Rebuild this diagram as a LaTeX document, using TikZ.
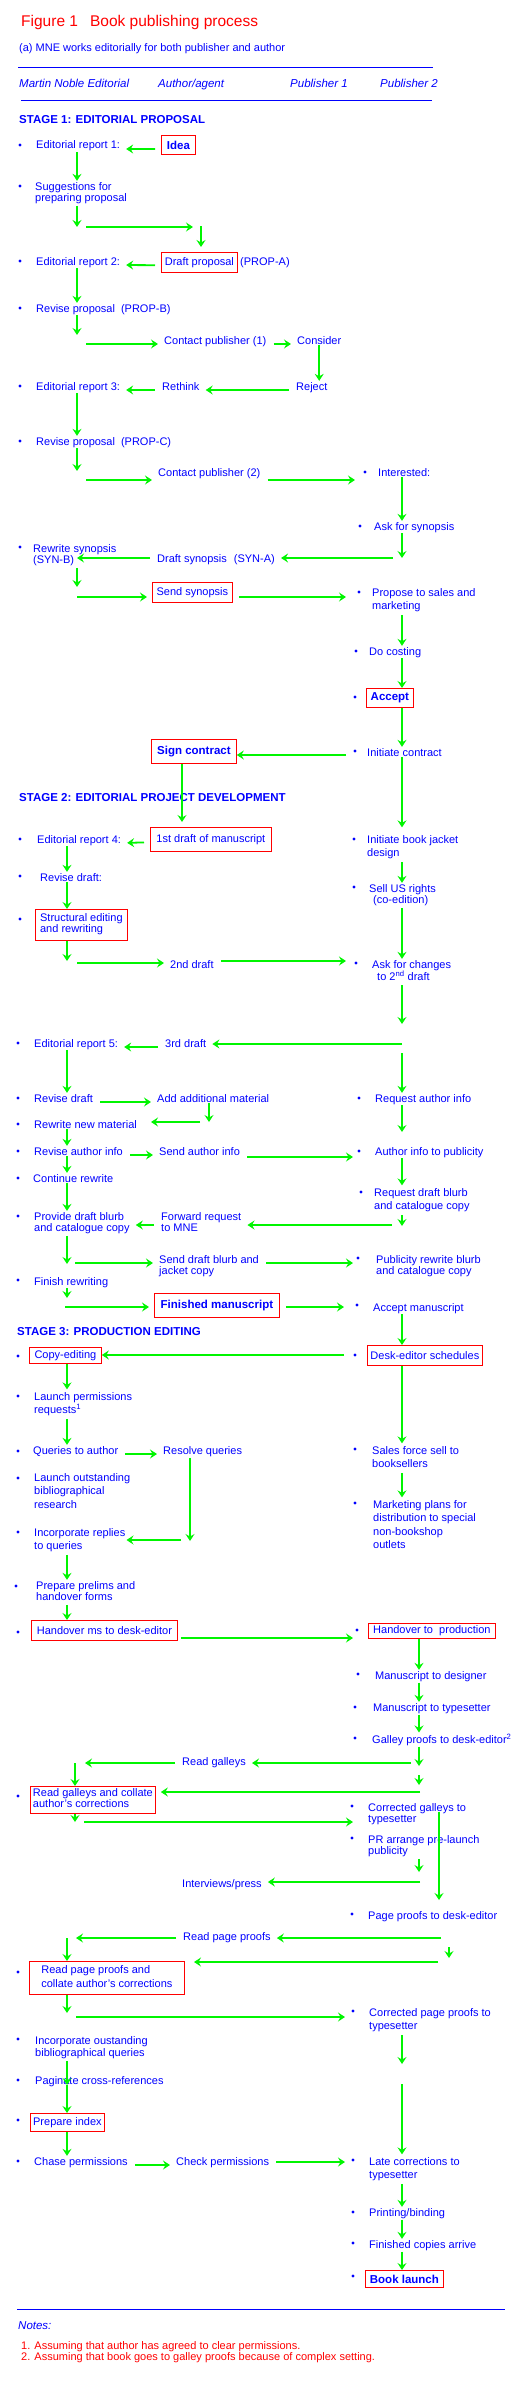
\documentclass[tikz,border=0pt]{standalone}
\usepackage{fontspec}
\setmainfont{Liberation Sans}
\usetikzlibrary{arrows.meta}
\definecolor{agreen}{RGB}{0,245,0}
\definecolor{tblue}{RGB}{0,0,255}
\definecolor{tred}{RGB}{255,0,0}
\newcommand\mlt[1]{\begin{tabular}[t]{@{}l@{}}#1\end{tabular}}

\begin{document}
\begin{tikzpicture}[x=1pt, y=-1pt,
 txt/.style={text=tblue, font=\fontsize{11}{12}\selectfont, inner sep=1pt, anchor=base west},
 tight/.style={font=\fontsize{11}{11}\selectfont},
 loose/.style={font=\fontsize{11}{13.5}\selectfont},
 bld/.style={txt, font=\fontsize{11.5}{12}\selectfont\bfseries},
 hdr/.style={txt, font=\fontsize{11.5}{12}\selectfont\itshape},
 box/.style={draw=tred, line width=0.8pt, text=tblue, font=\fontsize{11}{11}\selectfont, inner sep=0pt, anchor=north west},
 bbox/.style={box, font=\fontsize{11.5}{12}\selectfont\bfseries},
 bul/.style={circle, fill=tblue, inner sep=0pt, minimum size=3.2pt},
 arr/.style={draw=agreen, line width=1.8pt, -{Stealth[length=7pt, width=9pt, inset=2.5pt]}},
 hgap/.style={shorten <=6pt, shorten >=5pt},
 sgap/.style={shorten <=6pt},
 egap/.style={shorten >=5pt},
 rule/.style={draw=tblue, line width=0.9pt}]
 \useasboundingbox (0,0) rectangle (531,2384);

 \node[txt, text=tred, font=\fontsize{15.5}{16}\selectfont] (title) at (20,26.5) {Figure 1\hspace{12pt}Book publishing process};
 \node[txt] (sub) at (18,52) {(a) MNE works editorially for both publisher and author};
 \draw[rule] (18,67) -- (433,67);
 \node[hdr] (h1) at (18,88) {Martin Noble Editorial};
 \node[hdr] (h2) at (157,88) {Author/agent};
 \node[hdr] (h3) at (289,88) {Publisher 1};
 \node[hdr] (h4) at (379,88) {Publisher 2};
 \draw[rule] (21,100) -- (432,100);

 \foreach \x/\y [count=\i] in {20/145, 20/186, 20/261, 20/308, 20/386, 20/441, 20/547,
   365/472, 360/526, 359/592, 356/651, 355/697, 355/751, 20/839, 20/876, 20/919,
   354/839, 354/887, 356/963, 18/1043, 18/1098, 18/1124, 18/1151, 18/1178, 18/1216, 18/1280,
   359/1098, 359/1151, 361/1192, 358/1258, 357/1305, 18/1356, 18/1396, 18/1451, 18/1478,
   18/1532, 16/1586, 18/1632, 18/1796, 18/1972, 18/2039, 18/2080, 18/2120, 18/2161,
   355/1355, 355/1449, 355/1503, 357/1630, 358/1674, 355/1707, 355/1738, 352/1806, 352/1838,
   352/1914, 353/2011, 353/2160, 353/2212, 353/2243, 353/2276}
  \node[bul] (b\i) at (\x,\y) {};

 \coordinate (colA) at (77,0);
 \coordinate (colB) at (67,0);
 \coordinate (colC) at (209,0);
 \coordinate (colD) at (190,0);
 \coordinate (colE) at (419,0);
 \coordinate (colF) at (75,0);
 \coordinate (colS) at (182,0);
 \coordinate (colR) at (402,0);

 \node[bld] (st1) at (18,124) {STAGE 1: EDITORIAL PROPOSAL};
 \node[txt] (rep1) at (35,149) {Editorial report 1:};
 \node[bbox, minimum width=34pt, minimum height=19pt] (idea) at (161,135) {Idea};
 \node[txt, tight] (sugg) at (34,190) {\mlt{Suggestions for\\ preparing proposal}};
 \node[txt] (rep2) at (35,265) {Editorial report 2:};
 \node[box, minimum width=76pt, minimum height=20pt] (dprop) at (161,252) {Draft proposal};
 \node[txt] (propa) at (239,265) {(PROP-A)};
 \node[txt] (rev1) at (35,312) {Revise proposal\hspace{6pt}(PROP-B)};
 \node[txt] (cont1) at (163,344) {Contact publisher (1)};
 \node[txt] (consid) at (296,344) {Consider};
 \node[txt] (reject) at (295,390) {Reject};
 \node[txt] (rethink) at (161,390) {Rethink};
 \node[txt] (rep3) at (35,390) {Editorial report 3:};
 \node[txt] (rev2) at (35,445) {Revise proposal\hspace{6pt}(PROP-C)};
 \node[txt] (cont2) at (157,476) {Contact publisher (2)};
 \node[txt] (intr) at (377,476) {Interested:};
 \node[txt] (asksyn) at (373,530) {Ask for synopsis};
 \node[txt] (dsyn) at (156,562) {Draft synopsis\hspace{7pt}(SYN-A)};
 \node[txt, tight] (rsyn) at (32,552) {\mlt{Rewrite synopsis\\ (SYN-B)}};
 \node[box, minimum width=80pt, minimum height=20pt] (ssyn) at (152,582) {Send synopsis};
 \node[txt, loose] (propose) at (371,596) {\mlt{Propose to sales and\\marketing}};
 \node[txt] (costing) at (368,655) {Do costing};
 \node[bbox, minimum width=47pt, minimum height=19pt] (accept) at (366,688) {Accept};
 \node[txt] (initc) at (366,756) {Initiate contract};
 \node[bbox, minimum width=85pt, minimum height=24pt] (sign) at (151,739) {Sign contract};

 \coordinate (p1) at (77,227);
 \coordinate (p2) at (86,227);
 \coordinate (p3) at (193,227);
 \coordinate (p4) at (201,226);
 \coordinate (p5) at (77,335);
 \coordinate (p6) at (86,344);
 \coordinate (p7) at (77,471);
 \coordinate (p8) at (86,480);
 \coordinate (p9) at (355,480);
 \coordinate (p10) at (402,558);
 \coordinate (p11) at (393,558);
 \coordinate (p13) at (77,587);
 \coordinate (p14) at (77,597);
 \coordinate (p15) at (346,597);
 \coordinate (p16) at (346,755);
 \draw[arr, hgap] (idea.base west) -- (rep1.base east);
 \draw[arr] (rep1.south -| colA) -- (sugg.north -| colA);
 \draw[arr] (sugg.south -| colA) -- (p1);
 \draw[arr] (p2) -- (p3);
 \draw[arr, egap] (p4) -- (p4 |- dprop.north);
 \draw[arr, hgap] (dprop.base west) -- (rep2.base east);
 \draw[arr] (rep2.south -| colA) -- (rev1.north -| colA);
 \draw[arr] (rev1.south -| colA) -- (p5);
 \draw[arr, egap] (p6) -- (p6 -| cont1.west);
 \draw[arr, hgap] (cont1.base east) -- (consid.base west);
 \draw[arr] (consid.south) -- (consid.south |- reject.north);
 \draw[arr, hgap] (reject.base west) -- (rethink.base east);
 \draw[arr, hgap] (rethink.base west) -- (rep3.base east);
 \draw[arr] (rep3.south -| colA) -- (rev2.north -| colA);
 \draw[arr] (rev2.south -| colA) -- (p7);
 \draw[arr, egap] (p8) -- (p8 -| cont2.west);
 \draw[arr, sgap] (p9 -| cont2.east) -- (p9);
 \draw[arr] (intr.south -| colR) -- (asksyn.north -| colR);
 \draw[arr] (asksyn.south -| colR) -- (p10);
 \draw[arr, egap] (p11) -- (p11 -| dsyn.east);
 \draw[arr, sgap] (p11 -| dsyn.west) -- (p11 -| colA);
 \draw[arr] (rsyn.south -| colA) -- (p13);
 \draw[arr, egap] (p14) -- (p14 -| ssyn.west);
 \draw[arr, sgap] (p14 -| ssyn.east) -- (p15);
 \draw[arr] (propose.south -| colR) -- (costing.north -| colR);
 \draw[arr] (costing.south -| colR) -- (accept.north -| colR);
 \draw[arr] (accept.south -| colR) -- (initc.north -| colR);
 \draw[arr] (p16) -- (p16 -| sign.east);

 \node[bld] (st2) at (18,801) {STAGE 2: EDITORIAL PROJECT DEVELOPMENT};
 \node[txt] (rep4) at (36,843) {Editorial report 4:};
 \node[box, minimum width=121pt, minimum height=24pt] (draft1) at (150,827) {1st draft of manuscript};
 \node[txt] (revd) at (39,881) {Revise draft:};
 \node[box, tight, minimum width=92pt, minimum height=31pt] (struct) at (35,909) {\mlt{Structural editing\\ and rewriting}};
 \node[txt] (draft2) at (169,968) {2nd draft};
 \node[txt, loose] (jacket) at (366,843) {\mlt{Initiate book jacket\\design}};
 \node[txt, tight] (usr) at (368,892) {\mlt{Sell US rights\\\hspace*{4pt}(co-edition)}};
 \node[txt, tight] (askch) at (371,968) {\mlt{Ask for changes\\\hspace*{5pt}to 2\textsuperscript{nd} draft}};
 \node[txt] (draft3) at (164,1047) {3rd draft};
 \node[txt] (rep5) at (33,1047) {Editorial report 5:};
 \node[txt] (revd2) at (33,1102) {Revise draft};
 \node[txt] (addm) at (156,1102) {Add additional material};
 \node[txt] (rnew) at (33,1128) {Rewrite new material};
 \node[txt] (rai) at (33,1155) {Revise author info};
 \node[txt] (sai) at (158,1155) {Send author info};
 \node[txt] (cont) at (32,1182) {Continue rewrite};
 \node[txt] (reqai) at (374,1102) {Request author info};
 \node[txt] (aipub) at (374,1155) {Author info to publicity};
 \node[txt, loose] (reqbl) at (373,1196) {\mlt{Request draft blurb\\and catalogue copy}};
 \node[txt, tight] (prov) at (33,1220) {\mlt{Provide draft blurb\\and catalogue copy}};
 \node[txt, tight] (fwd) at (160,1220) {\mlt{Forward request\\to MNE}};
 \node[txt, tight] (sendbl) at (158,1263) {\mlt{Send draft blurb and\\jacket copy}};
 \node[txt, tight] (pubrw) at (375,1263) {\mlt{Publicity rewrite blurb\\and catalogue copy}};
 \node[txt] (finr) at (33,1285) {Finish rewriting};
 \node[bbox, minimum width=125pt, minimum height=24pt] (finms) at (154,1293) {Finished manuscript};
 \node[txt] (accms) at (372,1311) {Accept manuscript};

 \coordinate (p17) at (67,961);
 \coordinate (p18) at (77,963);
 \coordinate (p19) at (346,961);
 \coordinate (p21) at (402,1024);
 \coordinate (p22) at (402,1044);
 \coordinate (p23) at (402,1053);
 \coordinate (p24) at (209,1122);
 \coordinate (p25) at (200,1122);
 \coordinate (p26) at (151,1122);
 \coordinate (p27) at (353,1157);
 \coordinate (p28) at (402,1132);
 \coordinate (p29) at (402,1226);
 \coordinate (p30) at (392,1225);
 \coordinate (p31) at (67,1264);
 \coordinate (p32) at (75,1263);
 \coordinate (p33) at (353,1263);
 \coordinate (p34) at (67,1298);
 \coordinate (p35) at (65,1307);
 \coordinate (p36) at (344,1307);
 \draw[arr, egap] (sign.south -| colS) -- (draft1.north -| colS);
 \draw[arr, egap] (initc.south -| colR) -- (jacket.north -| colR);
 \draw[arr, hgap] (draft1.base west) -- (rep4.base east);
 \draw[arr] (rep4.south -| colB) -- (revd.north -| colB);
 \draw[arr] (revd.south -| colB) -- (struct.north -| colB);
 \draw[arr] (struct.south -| colB) -- (p17);
 \draw[arr, egap] (p18) -- (p18 -| draft2.west);
 \draw[arr, sgap] (p19 -| draft2.east) -- (p19);
 \draw[arr] (jacket.south -| colR) -- (usr.north -| colR);
 \draw[arr] (usr.south -| colR) -- (askch.north -| colR);
 \draw[arr] (askch.south -| colR) -- (p21);
 \draw[arr, egap] (p22) -- (p22 -| draft3.east);
 \draw[arr, hgap] (draft3.base west) -- (rep5.base east);
 \draw[arr] (rep5.south -| colB) -- (revd2.north -| colB);
 \draw[arr] (p23) -- (reqai.north -| colR);
 \draw[arr, hgap] (revd2.base east) -- (addm.base west);
 \draw[arr] (addm.south -| colC) -- (p24);
 \draw[arr] (p25) -- (p26);
 \draw[arr] (rnew.south -| colB) -- (rai.north -| colB);
 \draw[arr, hgap] (rai.base east) -- (sai.base west);
 \draw[arr, sgap] (p27 -| sai.east) -- (p27);
 \draw[arr] (rai.south -| colB) -- (cont.north -| colB);
 \draw[arr] (reqai.south -| colR) -- (p28);
 \draw[arr] (aipub.south -| colR) -- (reqbl.north -| colR);
 \draw[arr] (cont.south -| colB) -- (prov.north -| colB);
 \draw[arr] (reqbl.south -| colR) -- (p29);
 \draw[arr, egap] (p30) -- (p30 -| fwd.east);
 \draw[arr, hgap] (p30 -| fwd.west) -- (p30 -| prov.east);
 \draw[arr] (prov.south -| colB) -- (p31);
 \draw[arr, egap] (p32) -- (p32 -| sendbl.west);
 \draw[arr, sgap] (p32 -| sendbl.east) -- (p33);
 \draw[arr] (finr.south -| colB) -- (p34);
 \draw[arr, egap] (p35) -- (p35 -| finms.west);
 \draw[arr, sgap] (p35 -| finms.east) -- (p36);

 \node[bld] (st3) at (16,1335) {STAGE 3: PRODUCTION EDITING};
 \node[box, minimum width=72pt, minimum height=16pt] (copyed) at (29,1347) {Copy-editing};
 \node[box, minimum width=115pt, minimum height=20pt] (desk) at (367,1345) {Desk-editor schedules};
 \node[txt, loose] (lperm) at (33,1400) {\mlt{Launch permissions\\requests\textsuperscript{1}}};
 \node[txt] (qauth) at (32,1454) {Queries to author};
 \node[txt] (resq) at (162,1454) {Resolve queries};
 \node[txt, loose] (lout) at (33,1481) {\mlt{Launch outstanding\\bibliographical\\research}};
 \node[txt, loose] (incr) at (33,1536) {\mlt{Incorporate replies\\to queries}};
 \node[txt, tight] (prel) at (35,1589) {\mlt{Prepare prelims and\\handover forms}};
 \node[txt, loose] (sales) at (371,1454) {\mlt{Sales force sell to\\booksellers}};
 \node[txt, loose] (mkt) at (372,1508) {\mlt{Marketing plans for\\distribution to special\\non-bookshop\\outlets}};
 \node[box, minimum width=146pt, minimum height=20pt] (hms) at (31,1620) {Handover ms to desk-editor};
 \node[box, minimum width=127pt, minimum height=15pt] (hprod) at (368,1623) {Handover to\ \ production};
 \node[txt] (mdes) at (374,1679) {Manuscript to designer};
 \node[txt] (mtyp) at (372,1711) {Manuscript to typesetter};
 \node[txt] (gal) at (371,1743) {Galley proofs to desk-editor\textsuperscript{2}};
 \node[txt] (rgal) at (181,1765) {Read galleys};
 \node[box, tight, minimum width=125pt, minimum height=27pt] (rgalc) at (30,1786) {\mlt{Read galleys and collate\\author's corrections}};
 \node[txt, tight] (cgal) at (367,1811) {\mlt{Corrected galleys to\\typesetter}};
 \node[txt, tight] (prl) at (367,1843) {\mlt{PR arrange pre-launch\\publicity}};
 \node[txt] (intv) at (181,1887) {Interviews/press};
 \node[txt] (ppde) at (367,1919) {Page proofs to desk-editor};
 \node[txt] (rpp) at (182,1940) {Read page proofs};
 \node[box, loose, minimum width=155pt, minimum height=33pt] (rppc) at (29,1961) {\mlt{Read page proofs and\\collate author's corrections}};
 \node[txt, loose] (cpp) at (368,2016) {\mlt{Corrected page proofs to\\typesetter}};
 \node[txt] (incb) at (34,2044) {\mlt{Incorporate oustanding\\bibliographical queries}};
 \node[txt] (pag) at (34,2084) {Paginate cross-references};
 \node[box, minimum width=74pt, minimum height=18pt] (pidx) at (30,2113) {Prepare index};
 \node[txt] (chase) at (33,2165) {Chase permissions};
 \node[txt] (check) at (175,2165) {Check permissions};
 \node[txt, loose] (late) at (368,2165) {\mlt{Late corrections to\\typesetter}};
 \node[txt] (print) at (368,2216) {Printing/binding};
 \node[txt] (fcop) at (368,2248) {Finished copies arrive};
 \node[bbox, minimum width=78pt, minimum height=17pt] (launch) at (365,2270) {Book launch};

 \coordinate (p37) at (344,1355);
 \coordinate (p38) at (190,1541);
 \coordinate (p39) at (181,1540);
 \coordinate (p40) at (353,1638);
 \coordinate (p41) at (419,1766);
 \coordinate (p42) at (411,1763);
 \coordinate (p43) at (85,1763);
 \coordinate (p44) at (75,1763);
 \coordinate (p45) at (419,1775);
 \coordinate (p46) at (419,1785);
 \coordinate (p47) at (420,1792);
 \coordinate (p48) at (75,1822);
 \coordinate (p49) at (84,1822);
 \coordinate (p50) at (353,1822);
 \coordinate (p51) at (439,1812);
 \coordinate (p52) at (439,1900);
 \coordinate (p53) at (419,1872);
 \coordinate (p54) at (420,1882);
 \coordinate (p55) at (441,1938);
 \coordinate (p56) at (76,1938);
 \coordinate (p57) at (67,1938);
 \coordinate (p58) at (449,1947);
 \coordinate (p59) at (449,1958);
 \coordinate (p60) at (438,1962);
 \coordinate (p61) at (194,1962);
 \coordinate (p62) at (67,2013);
 \coordinate (p63) at (76,2017);
 \coordinate (p64) at (345,2017);
 \coordinate (p65) at (402,2064);
 \coordinate (p66) at (67,2085);
 \coordinate (p67) at (402,2084);
 \coordinate (p68) at (345,2162);
 \draw[arr] (accms.south -| colR) -- (desk.north -| colR);
 \draw[arr] (p37) -- (p37 -| copyed.east);
 \draw[arr] (copyed.south -| colB) -- (lperm.north -| colB);
 \draw[arr] (desk.south -| colR) -- (sales.north -| colR);
 \draw[arr] (lperm.south -| colB) -- (qauth.north -| colB);
 \draw[arr, hgap] (qauth.base east) -- (resq.base west);
 \draw[arr] (resq.south -| colD) -- (p38);
 \draw[arr] (p39) -- (p39 -| incr.east);
 \draw[arr] (sales.south -| colR) -- (mkt.north -| colR);
 \draw[arr] (incr.south -| colB) -- (prel.north -| colB);
 \draw[arr] (prel.south -| colB) -- (hms.north -| colB);
 \draw[arr, shorten <=3pt] (p40 -| hms.east) -- (p40);
 \draw[arr] (hprod.south -| colE) -- (mdes.north -| colE);
 \draw[arr] (mdes.south -| colE) -- (mtyp.north -| colE);
 \draw[arr] (mtyp.south -| colE) -- (gal.north -| colE);
 \draw[arr] (gal.south -| colE) -- (p41);
 \draw[arr, egap] (p42) -- (p42 -| rgal.east);
 \draw[arr, sgap] (p42 -| rgal.west) -- (p43);
 \draw[arr] (p44) -- (rgalc.north -| colF);
 \draw[arr] (p45) -- (p46);
 \draw[arr, egap] (p47) -- (p47 -| rgalc.east);
 \draw[arr] (rgalc.south -| colF) -- (p48);
 \draw[arr] (p49) -- (p50);
 \draw[arr] (p51) -- (p52);
 \draw[arr] (prl.south -| colE) -- (p53);
 \draw[arr, egap] (p54) -- (p54 -| intv.east);
 \draw[arr, egap] (p55) -- (p55 -| rpp.east);
 \draw[arr, sgap] (p55 -| rpp.west) -- (p56);
 \draw[arr] (p57) -- (rppc.north -| colB);
 \draw[arr] (p58) -- (p59);
 \draw[arr] (p60) -- (p61);
 \draw[arr] (rppc.south -| colB) -- (p62);
 \draw[arr] (p63) -- (p64);
 \draw[arr] (cpp.south -| colR) -- (p65);
 \draw[arr] (incb.south -| colB) -- (p66);
 \draw[arr] (p66) -- (pidx.north -| colB);
 \draw[arr] (p67) -- (late.north -| colR);
 \draw[arr] (pidx.south -| colB) -- (chase.north -| colB);
 \draw[arr, hgap] (chase.base east) -- (check.base west);
 \draw[arr, sgap] (p68 -| check.east) -- (p68);
 \draw[arr] (late.south -| colR) -- (print.north -| colR);
 \draw[arr] (print.south -| colR) -- (fcop.north -| colR);
 \draw[arr] (fcop.south -| colR) -- (launch.north -| colR);

 \draw[rule] (17,2309) -- (505,2309);
 \node[hdr] (notes) at (17,2329) {Notes:};
 \node[txt, tight, text=tred] (fn) at (20,2349) {\mlt{1. Assuming that author has agreed to clear permissions.\\2. Assuming that book goes to galley proofs because of complex setting.}};
\end{tikzpicture}
\end{document}
